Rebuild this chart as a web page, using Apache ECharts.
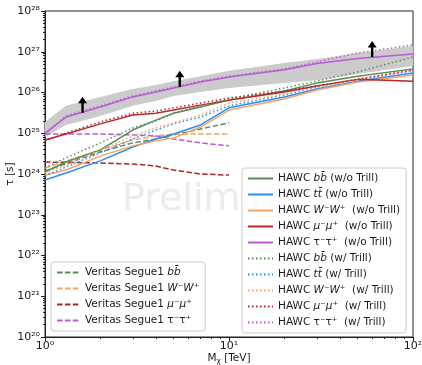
<!DOCTYPE html>
<html>
<head>
<meta charset="utf-8">
<script src="https://cdn.jsdelivr.net/npm/echarts@6/dist/echarts.min.js"></script>
<style>
  html, body { margin: 0; padding: 0; background: #fff; }
  #chart { width: 422px; height: 365px; }
</style>
</head>
<body>
<div id="chart"></div>
<script>
// Dark-matter mass grid (TeV) for the HAWC limits
const hawcMass = [1, 1.3, 2, 3, 4, 5, 7, 10, 20, 30, 50, 100];

// HAWC lifetime limits (s), without Trill
const hawcBB     = [1.12e24, 1.97e24, 3.9e24, 1.2e25, 2.1e25, 3.1e25, 4.4e25, 6.5e25, 1.09e26, 1.7e26, 2.5e26, 3.8e26];
const hawcTT     = [7.1e23, 1.06e24, 2.1e24, 4.6e24, 7.2e24, 9.6e24, 1.6e25, 4.2e25, 7.8e25, 1.22e26, 1.9e26, 3.0e26];
const hawcWW     = [9.4e23, 1.25e24, 2.75e24, 4.9e24, 6.5e24, 7.6e24, 1.42e25, 3.7e25, 6.9e25, 1.15e26, 1.8e26, 2.7e26];
const hawcMuMu   = [6.8e24, 9.6e24, 1.7e25, 2.8e25, 3.1e25, 3.7e25, 4.9e25, 6.5e25, 1.03e26, 1.45e26, 2.1e26, 1.9e26];
const hawcTauTau = [1.01e25, 2.5e25, 4.4e25, 7.8e25, 1.03e26, 1.29e26, 1.8e26, 2.4e26, 3.6e26, 5.15e26, 6.8e26, 8.8e26];

// HAWC lifetime limits (s), with Trill
const trillBB     = [1.4e24, 2.5e24, 5.8e24, 1.35e25, 2.0e25, 3.1e25, 4.7e25, 6.9e25, 1.29e26, 1.9e26, 3.2e26, 7.4e26];
const trillTT     = [8.9e23, 1.49e24, 3.3e24, 7.2e24, 1.2e25, 1.7e25, 2.5e25, 4.7e25, 8.7e25, 1.36e26, 2.1e26, 3.4e26];
const trillWW     = [1.06e24, 1.66e24, 3.9e24, 8.6e24, 1.35e25, 1.8e25, 2.8e25, 5.5e25, 9.2e25, 1.36e26, 2.1e26, 3.4e26];
const trillMuMu   = [6.5e24, 1.01e25, 1.9e25, 3.1e25, 3.5e25, 4.2e25, 5.5e25, 7.3e25, 1.09e26, 1.45e26, 2.1e26, 3.6e26];
const trillTauTau = [9.6e24, 2.65e25, 4.7e25, 8.2e25, 1.09e26, 1.36e26, 1.9e26, 2.5e26, 3.8e26, 5.6e26, 9.3e26, 1.47e27];

// Expected-sensitivity band around the tau-tau limit (s)
const bandUpper = [1.9e25, 4.7e25, 7.8e25, 1.22e26, 1.53e26, 1.9e26, 2.5e26, 3.4e26, 5.3e26, 6.6e26, 9.3e26, 1.38e27];
const bandLower = [8.1e24, 1.6e25, 2.65e25, 4.7e25, 6.2e25, 8.2e25, 1.03e26, 1.29e26, 1.7e26, 2.0e26, 2.85e26, 4.5e26];

// Veritas Segue 1 limits (s)
const veritasMass   = [1, 2, 3, 4, 5, 7, 10];
const veritasBB     = [1.19e24, 3.5e24, 5.8e24, 7.2e24, 9.1e24, 1.27e25, 1.8e25];
const veritasWW     = [1.4e24, 3.9e24, 6.8e24, 8.6e24, 9.6e24, 9.6e24, 9.6e24];
const veritasMuMu   = [1.97e24, 1.86e24, 1.76e24, 1.57e24, 1.25e24, 1.0e24, 9.4e23];
const veritasTauTau = [9.6e24, 9.6e24, 9.1e24, 8.6e24, 7.2e24, 5.8e24, 4.9e24];

// Lower-limit arrows on the tau-tau curve
const arrowMass = [1.6, 5.4, 60];
const arrowTau  = [3.2e25, 1.38e26, 7.4e26];

// Axis ticks
const yMajor = [1e20, 1e21, 1e22, 1e23, 1e24, 1e25, 1e26, 1e27, 1e28];
const xMajor = [1, 10, 100];
const yMinor = [];
for (let e = 20; e < 28; e++) for (let k = 2; k <= 9; k++) yMinor.push(k * Math.pow(10, e));
const xMinor = [];
for (let e = 0; e < 2; e++) for (let k = 2; k <= 9; k++) xMinor.push(k * Math.pow(10, e));

const C = {
  green: '#5a8a5a', blue: '#2a8ff2', orange: '#f6a264', red: '#b8262a', purple: '#bb5ad6',
  vRed: '#a82828'
};
const FONT = 'DejaVu Sans';
const SUP = '⁰¹²³⁴⁵⁶⁷⁸⁹';
const sup = n => String(n).split('').map(d => SUP[+d]).join('');
const pairs = (xs, ys) => xs.map((x, i) => [x, ys[i]]);

const DOT = [1.5, 2.5];
const DASH = [5.5, 2.4];

function line(name, xs, ys, color, type) {
  return {
    name, type: 'line', data: pairs(xs, ys), symbol: 'none', showSymbol: false, silent: true, z: 3,
    lineStyle: { color, width: 1.5, type, cap: 'butt' },
    itemStyle: { color }
  };
}

const hawcNames = [
  'HAWC bb (w/o Trill)', 'HAWC tt (w/o Trill)', 'HAWC WW (w/o Trill)', 'HAWC mumu (w/o Trill)', 'HAWC tautau (w/o Trill)',
  'HAWC bb (w/ Trill)', 'HAWC tt (w/ Trill)', 'HAWC WW (w/ Trill)', 'HAWC mumu (w/ Trill)', 'HAWC tautau (w/ Trill)'
];
const veritasNames = ['Veritas Segue1 bb', 'Veritas Segue1 WW', 'Veritas Segue1 mumu', 'Veritas Segue1 tautau'];

const bbTxt = '{i|bb\u0304}', ttTxt = '{i|tt\u0304}', wwTxt = '{i|W}⁻{i|W}⁺', mmTxt = '{i|μ}⁻{i|μ}⁺', ttauTxt = 'τ⁻τ⁺';
const labels = {
  'HAWC bb (w/o Trill)': 'HAWC ' + bbTxt + ' (w/o Trill)',
  'HAWC tt (w/o Trill)': 'HAWC ' + ttTxt + ' (w/o Trill)',
  'HAWC WW (w/o Trill)': 'HAWC ' + wwTxt + '  (w/o Trill)',
  'HAWC mumu (w/o Trill)': 'HAWC ' + mmTxt + '  (w/o Trill)',
  'HAWC tautau (w/o Trill)': 'HAWC ' + ttauTxt + '  (w/o Trill)',
  'HAWC bb (w/ Trill)': 'HAWC ' + bbTxt + ' (w/ Trill)',
  'HAWC tt (w/ Trill)': 'HAWC ' + ttTxt + ' (w/ Trill)',
  'HAWC WW (w/ Trill)': 'HAWC ' + wwTxt + '  (w/ Trill)',
  'HAWC mumu (w/ Trill)': 'HAWC ' + mmTxt + '  (w/ Trill)',
  'HAWC tautau (w/ Trill)': 'HAWC ' + ttauTxt + '  (w/ Trill)',
  'Veritas Segue1 bb': 'Veritas Segue1 ' + bbTxt,
  'Veritas Segue1 WW': 'Veritas Segue1 ' + wwTxt,
  'Veritas Segue1 mumu': 'Veritas Segue1 ' + mmTxt,
  'Veritas Segue1 tautau': 'Veritas Segue1 ' + ttauTxt
};

const legendText = {
  fontFamily: FONT, fontSize: 10.5, color: '#1a1a1a', lineHeight: 13,
  rich: { i: { fontStyle: 'italic', fontFamily: FONT, fontSize: 10.5, lineHeight: 13 } }
};
const legendBase = {
  orient: 'vertical', itemWidth: 24, itemHeight: 10, itemGap: 3,
  backgroundColor: 'rgba(255,255,255,0.8)', borderColor: '#cccccc', borderWidth: 1, borderRadius: 3,
  padding: [4, 6, 4, 5], selectedMode: false, textStyle: legendText,
  itemStyle: { opacity: 0 },
  formatter: name => labels[name], z: 10
};

const series = [
  {
    name: 'band', type: 'custom', silent: true, z: 1, clip: true,
    data: [[1, 1e25]],
    renderItem(params, api) {
      const top = hawcMass.map((m, i) => api.coord([m, bandUpper[i]]));
      const bot = hawcMass.map((m, i) => api.coord([m, bandLower[i]])).reverse();
      return { type: 'polygon', shape: { points: top.concat(bot) }, style: { fill: '#cbcbcb' } };
    }
  },
  line('Veritas Segue1 bb', veritasMass, veritasBB, C.green, DASH),
  line('Veritas Segue1 WW', veritasMass, veritasWW, C.orange, DASH),
  line('Veritas Segue1 mumu', veritasMass, veritasMuMu, C.vRed, DASH),
  line('Veritas Segue1 tautau', veritasMass, veritasTauTau, C.purple, DASH),
  line('HAWC bb (w/o Trill)', hawcMass, hawcBB, C.green, 'solid'),
  line('HAWC tt (w/o Trill)', hawcMass, hawcTT, C.blue, 'solid'),
  line('HAWC WW (w/o Trill)', hawcMass, hawcWW, C.orange, 'solid'),
  line('HAWC mumu (w/o Trill)', hawcMass, hawcMuMu, C.red, 'solid'),
  line('HAWC tautau (w/o Trill)', hawcMass, hawcTauTau, C.purple, 'solid'),
  line('HAWC bb (w/ Trill)', hawcMass, trillBB, C.green, DOT),
  line('HAWC tt (w/ Trill)', hawcMass, trillTT, C.blue, DOT),
  line('HAWC WW (w/ Trill)', hawcMass, trillWW, C.orange, DOT),
  line('HAWC mumu (w/ Trill)', hawcMass, trillMuMu, C.red, DOT),
  line('HAWC tautau (w/ Trill)', hawcMass, trillTauTau, C.purple, DOT),
  {
    name: 'arrows', type: 'scatter', silent: true, z: 5,
    data: pairs(arrowMass, arrowTau),
    symbol: 'path://M4.5,0 L9,6.5 L5.7,6.5 L5.7,16 L3.3,16 L3.3,6.5 L0,6.5 Z',
    symbolSize: [9, 16], symbolOffset: [0, -8],
    itemStyle: { color: '#000', opacity: 1 }
  }
];

const chart = echarts.init(document.getElementById('chart'), null, { renderer: 'canvas' });
chart.setOption({
  animation: false,
  backgroundColor: '#fff',
  grid: { left: 45, right: 9, top: 11, bottom: 28, containLabel: false, outerBoundsMode: 'none',
    show: true, borderColor: '#222', borderWidth: 1, backgroundColor: 'transparent' },
  graphic: [{
    type: 'text', left: 122, top: 181, z: 0, silent: true,
    style: { text: 'Preliminary', font: '38px "DejaVu Sans"', fill: '#ececec' }
  }],
  xAxis: [{
    type: 'log', logBase: 10, min: 1, max: 100, gridIndex: 0, position: 'bottom',
    name: 'M{s|χ} [TeV]', nameLocation: 'middle', nameGap: 15, nameMoveOverlap: false,
    nameTextStyle: { fontFamily: FONT, fontSize: 10.5, color: '#1a1a1a',
      rich: { s: { fontSize: 7.5, fontFamily: FONT, color: '#1a1a1a', padding: [5, 0, 0, 0] } } },
    axisLine: { show: true, lineStyle: { color: '#222', width: 1 } },
    axisTick: { show: true, length: 4, inside: false, customValues: xMajor, lineStyle: { color: '#222' } },
    axisLabel: { customValues: xMajor, formatter: v => '10' + sup(Math.round(Math.log10(v))),
      fontFamily: FONT, fontSize: 11, color: '#1a1a1a', margin: 4 },
    splitLine: { show: false }, minorTick: { show: false }
  }, {
    type: 'log', logBase: 10, min: 1, max: 100, gridIndex: 0, position: 'bottom',
    axisLine: { show: false },
    axisTick: { show: true, length: 2, customValues: xMinor, lineStyle: { color: '#222' } },
    axisLabel: { show: false }, splitLine: { show: false }
  }],
  yAxis: [{
    type: 'log', logBase: 10, min: 1e20, max: 1e28, gridIndex: 0, position: 'left',
    name: 'τ [s]', nameLocation: 'middle', nameGap: 29, nameRotate: 90, nameMoveOverlap: false,
    nameTextStyle: { fontFamily: FONT, fontSize: 10.5, color: '#1a1a1a' },
    axisLine: { show: true, lineStyle: { color: '#222', width: 1 } },
    axisTick: { show: true, length: 4, customValues: yMajor, lineStyle: { color: '#222' } },
    axisLabel: { customValues: yMajor, formatter: v => '10' + sup(Math.round(Math.log10(v))),
      fontFamily: FONT, fontSize: 11, color: '#1a1a1a', margin: 5 },
    splitLine: { show: false }
  }, {
    type: 'log', logBase: 10, min: 1e20, max: 1e28, gridIndex: 0, position: 'left',
    axisLine: { show: false },
    axisTick: { show: true, length: 2, customValues: yMinor, lineStyle: { color: '#222' } },
    axisLabel: { show: false }, splitLine: { show: false }
  }],
  legend: [
    Object.assign({}, legendBase, { data: hawcNames, left: 242, top: 168, itemWidth: 25 }),
    Object.assign({}, legendBase, { data: veritasNames, left: 51, top: 262, itemWidth: 23 })
  ],
  series: series.map(s => Object.assign({ xAxisIndex: 0, yAxisIndex: 0 }, s))
});
</script>
</body>
</html>
